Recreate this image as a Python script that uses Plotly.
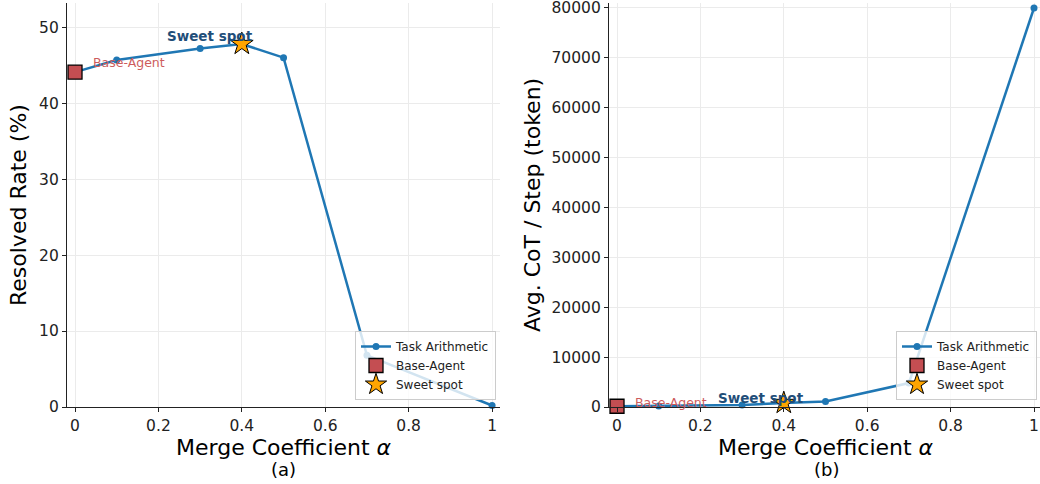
import plotly.graph_objects as go

# Merge-coefficient sweep (Task Arithmetic)
alpha = [0.0, 0.1, 0.3, 0.4, 0.5, 0.7, 1.0]
resolved_rate = [44.1, 45.7, 47.2, 47.8, 46.0, 6.8, 0.2]
cot_tokens = [150, 200, 400, 800, 1100, 4800, 80000]

base_alpha = [0.0]
base_rate = [44.1]
base_tokens = [150]

sweet_alpha = [0.4]
sweet_rate = [47.8]
sweet_tokens = [800]

x_ticks = [0, 0.2, 0.4, 0.6, 0.8, 1.0]
x_ticktext = ["0", "0.2", "0.4", "0.6", "0.8", "1"]
rate_ticks = [0, 10, 20, 30, 40, 50]
token_ticks = [0, 10000, 20000, 30000, 40000, 50000, 60000, 70000, 80000]
token_ticktext = [str(v) for v in token_ticks]

W, H = 1040, 484
FONT = "DejaVu Sans"
LINE_BLUE = "#1f77b4"
SQUARE_RED = "#c44e52"
TEXT_RED = "#cd5c5c"
SWEET_BLUE = "#1f4e79"
STAR_ORANGE = "#ffa500"


def px_x(p):
    return p / W


def px_y(p):
    return 1 - p / H


fig = go.Figure()

panels = [
    dict(xa="x", ya="y", legend="legend", yvals=resolved_rate, base=base_rate, sweet=sweet_rate),
    dict(xa="x2", ya="y2", legend="legend2", yvals=cot_tokens, base=base_tokens, sweet=sweet_tokens),
]

for p in panels:
    fig.add_trace(go.Scatter(
        x=alpha, y=p["yvals"], mode="lines+markers", name="Task Arithmetic",
        line=dict(color=LINE_BLUE, width=2.5), marker=dict(color=LINE_BLUE, size=7),
        xaxis=p["xa"], yaxis=p["ya"], legend=p["legend"], cliponaxis=False,
    ))
    fig.add_trace(go.Scatter(
        x=base_alpha, y=p["base"], mode="markers", name="Base-Agent",
        marker=dict(symbol="square", color=SQUARE_RED, size=14, line=dict(color="black", width=1.3)),
        xaxis=p["xa"], yaxis=p["ya"], legend=p["legend"], cliponaxis=False,
    ))
    fig.add_trace(go.Scatter(
        x=sweet_alpha, y=p["sweet"], mode="markers", name="Sweet spot",
        marker=dict(symbol="star", color=STAR_ORANGE, size=17, line=dict(color="black", width=1)),
        xaxis=p["xa"], yaxis=p["ya"], legend=p["legend"], cliponaxis=False,
    ))

axis_common = dict(
    showgrid=True, gridcolor="#ebebeb", gridwidth=1, zeroline=False,
    showline=True, linecolor="#222222", linewidth=1.2,
    ticks="outside", ticklen=4, tickwidth=1, tickcolor="#222222",
    tickfont=dict(family=FONT, size=15.5, color="#222222"),
    ticklabeloverflow="allow", automargin=False,
)

y_dom = [px_y(407), px_y(3)]

legend_common = dict(
    xanchor="right", yanchor="bottom",
    bgcolor="rgba(255,255,255,0.8)", bordercolor="#cccccc", borderwidth=1,
    font=dict(family=FONT, size=12, color="#222222"), tracegroupgap=0, itemwidth=30,
)

fig.update_layout(
    width=W, height=H,
    margin=dict(l=0, r=0, t=0, b=0),
    paper_bgcolor="white", plot_bgcolor="white",
    font=dict(family=FONT),
    xaxis=dict(domain=[px_x(67), px_x(500)], range=[-0.0192, 1.019],
               tickvals=x_ticks, ticktext=x_ticktext, anchor="y", **axis_common),
    yaxis=dict(domain=y_dom, range=[0, 53.2], tickvals=rate_ticks, anchor="x", **axis_common),
    xaxis2=dict(domain=[px_x(609), 1.0], range=[-0.0192, 1.0144],
                tickvals=x_ticks, ticktext=x_ticktext, anchor="y2", **axis_common),
    yaxis2=dict(domain=y_dom, range=[0, 81000], tickvals=token_ticks, ticktext=token_ticktext,
                anchor="x2", **axis_common),
    legend=dict(x=px_x(496), y=px_y(400), **legend_common),
    legend2=dict(x=px_x(1037), y=px_y(400), **legend_common),
)

annotations = []

# point labels
annotations += [
    dict(x=sweet_alpha[0], y=sweet_rate[0], xref="x", yref="y", text="<b>Sweet spot</b>",
         showarrow=False, xshift=-32, yshift=8, font=dict(family=FONT, size=13.5, color=SWEET_BLUE)),
    dict(x=base_alpha[0], y=base_rate[0], xref="x", yref="y", text="Base-Agent",
         showarrow=False, xanchor="left", xshift=16, yshift=10, font=dict(family=FONT, size=12.5, color=TEXT_RED)),
    dict(x=sweet_alpha[0], y=sweet_tokens[0], xref="x2", yref="y2", text="<b>Sweet spot</b>",
         showarrow=False, xshift=-23, yshift=5, font=dict(family=FONT, size=13.5, color=SWEET_BLUE)),
    dict(x=base_alpha[0], y=base_tokens[0], xref="x2", yref="y2", text="Base-Agent",
         showarrow=False, xanchor="left", xshift=16, yshift=4, font=dict(family=FONT, size=12.5, color=TEXT_RED)),
]

# axis titles and panel captions
title_font = dict(family=FONT, size=22, color="black")
for cx, cap in [(283.5, "(a)"), (826, "(b)")]:
    annotations.append(dict(x=px_x(cx), y=px_y(447), xref="paper", yref="paper",
                            text="Merge Coefficient <i>α</i>", showarrow=False,
                            xanchor="center", yanchor="middle", font=title_font))
    annotations.append(dict(x=px_x(cx), y=px_y(469), xref="paper", yref="paper",
                            text=cap, showarrow=False, xanchor="center", yanchor="middle",
                            font=dict(family=FONT, size=18, color="black")))

annotations.append(dict(x=px_x(18), y=px_y(205), xref="paper", yref="paper",
                        text="Resolved Rate (%)", showarrow=False, textangle=-90,
                        xanchor="center", yanchor="middle", font=title_font))
annotations.append(dict(x=px_x(532), y=px_y(205), xref="paper", yref="paper",
                        text="Avg. CoT / Step (token)", showarrow=False, textangle=-90,
                        xanchor="center", yanchor="middle", font=title_font))

fig.update_layout(annotations=annotations)

fig.write_html("out.html")
